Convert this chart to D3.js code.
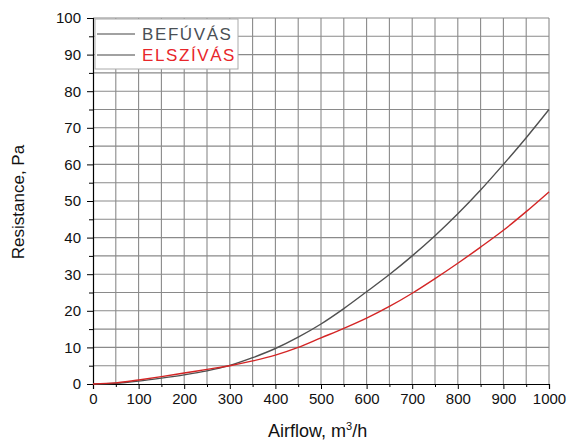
<!DOCTYPE html>
<html><head><meta charset="utf-8">
<script src="https://cdn.jsdelivr.net/npm/d3@7"></script>
<style>body{margin:0;background:#fff}svg{display:block;font-family:Arial,"Liberation Sans",sans-serif}</style>
</head><body>
<svg id="c" width="568" height="443"></svg>
<script>
const airflow = [0,50,100,150,200,250,300,350,400,450,500,550,600,650,700,750,800,850,900,950,1000];
const befuvas = [0,0.2,0.8,1.6,2.5,3.6,5.1,7.2,9.7,12.8,16.4,20.6,25.2,29.9,35.0,40.5,46.5,53,60,67.3,75];
const elszivas = [0,0.3,1.1,2.0,3.0,4.0,5.0,6.3,7.9,10.0,12.6,15.2,18.0,21.2,24.8,28.8,33.0,37.4,42.0,47.1,52.5];
const seriesNames = ["BEFÚVÁS","ELSZÍVÁS"];
const xTicks = [0,100,200,300,400,500,600,700,800,900,1000];
const yTicks = [0,10,20,30,40,50,60,70,80,90,100];

const svg = d3.select("#c");
const L=93,R=549,T=18,B=384;
const x = d3.scaleLinear().domain([0,1000]).range([L,R]);
const y = d3.scaleLinear().domain([0,100]).range([B,T]);

// grid
const g = svg.append("g");
g.selectAll(".vx").data(d3.range(50,1001,50)).join("line")
 .attr("x1",d=>x(d)).attr("x2",d=>x(d)).attr("y1",T).attr("y2",B)
 .attr("stroke","#8a8a8a").attr("stroke-width",1.1);
g.selectAll(".hy").data(d3.range(5,101,5)).join("line")
 .attr("x1",L).attr("x2",R).attr("y1",d=>y(d)).attr("y2",d=>y(d))
 .attr("stroke","#8a8a8a").attr("stroke-width",1.1);

// axes
const xa = svg.append("g").attr("transform",`translate(0,${B})`)
 .call(d3.axisBottom(x).tickValues(xTicks).tickSize(5).tickPadding(4).tickFormat(d3.format("d")));
xa.select(".domain").attr("stroke","#000").attr("stroke-width",1.2);
xa.selectAll("text").attr("font-size",15).attr("fill","#111").attr("font-family","Arial, Liberation Sans");
svg.append("g").attr("transform",`translate(0,${B})`)
 .call(d3.axisBottom(x).tickValues(d3.range(50,1000,100)).tickSize(3).tickFormat(""))
 .select(".domain").remove();

const ya = svg.append("g").attr("transform",`translate(${L},0)`)
 .call(d3.axisLeft(y).tickValues(yTicks).tickSize(6).tickPadding(6).tickFormat(d3.format("d")));
ya.select(".domain").attr("stroke","#000").attr("stroke-width",1.2);
ya.selectAll("text").attr("font-size",15).attr("fill","#111").attr("font-family","Arial, Liberation Sans");
svg.append("g").attr("transform",`translate(${L},0)`)
 .call(d3.axisLeft(y).tickValues(d3.range(5,100,10)).tickSize(4).tickFormat(""))
 .select(".domain").remove();

// lines
const line = d3.line().x((d,i)=>x(airflow[i])).y(d=>y(d)).curve(d3.curveMonotoneX);
svg.append("path").datum(befuvas).attr("d",line).attr("fill","none").attr("stroke","#505050").attr("stroke-width",1.4);
svg.append("path").datum(elszivas).attr("d",line).attr("fill","none").attr("stroke","#d42525").attr("stroke-width",1.4);

// legend
const lg = svg.append("g");
lg.append("rect").attr("x",95).attr("y",19).attr("width",143).attr("height",50)
 .attr("fill","#fff").attr("stroke","#aaa").attr("stroke-width",1);
const legColors = ["#4a4f55","#e8262a"];
seriesNames.forEach((n,i)=>{
  const yy = 34 + i*21;
  lg.append("line").attr("x1",97).attr("x2",135).attr("y1",yy).attr("y2",yy).attr("stroke","#444").attr("stroke-width",1.2);
  lg.append("text").attr("x",142).attr("y",yy+6).attr("font-size",17).attr("letter-spacing",1.6)
    .attr("fill",legColors[i]).text(n);
});

// titles
const xt = svg.append("text").attr("x",268).attr("y",437).attr("font-size",18).attr("fill","#111");
xt.append("tspan").text("Airflow, m");
xt.append("tspan").attr("font-size",11).attr("dy",-7).text("3");
xt.append("tspan").attr("dy",7).text("/h");
svg.append("text").attr("transform","translate(24,202) rotate(-90)").attr("text-anchor","middle")
 .attr("font-size",17).attr("fill","#111").text("Resistance, Pa");
</script>
</body></html>
